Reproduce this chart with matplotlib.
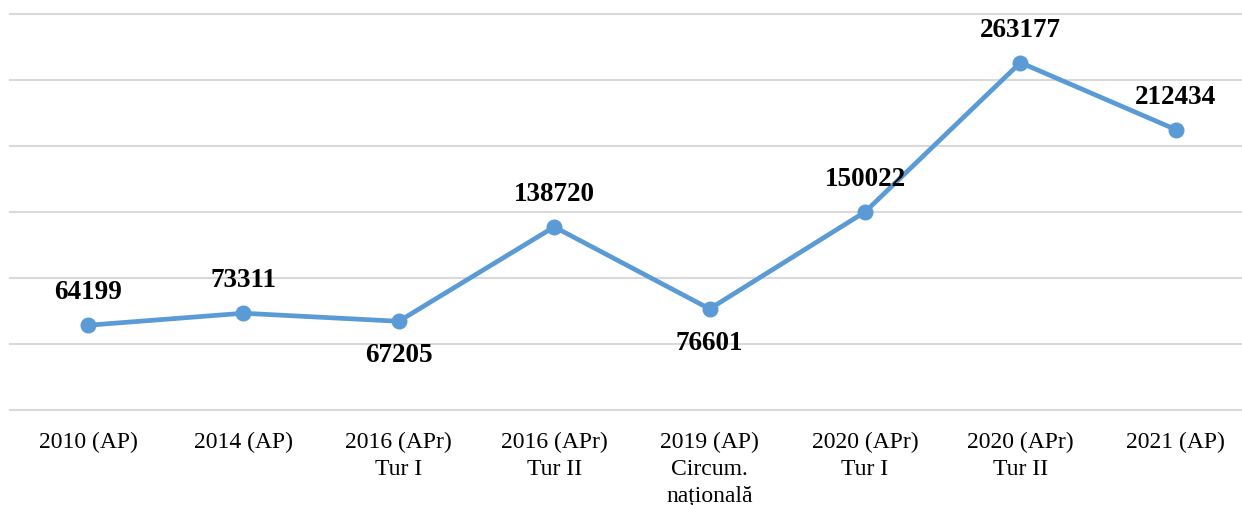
import matplotlib
matplotlib.use('Agg')
import matplotlib.pyplot as plt

categories = ['2010 (AP)', '2014 (AP)', '2016 (APr)\nTur I', '2016 (APr)\nTur II',
              '2019 (AP)\nCircum.\nnațională', '2020 (APr)\nTur I', '2020 (APr)\nTur II', '2021 (AP)']
values = [64199, 73311, 67205, 138720, 76601, 150022, 263177, 212434]
label_side = ['above', 'above', 'below', 'above', 'below', 'above', 'above', 'above']

plt.rcParams['font.family'] = ['Liberation Serif', 'DejaVu Serif']

fig = plt.figure(figsize=(12.42, 5.06), dpi=100)
ax = fig.add_axes([10 / 1242, 95 / 506, 1232 / 1242, 396 / 506])

x = list(range(len(values)))
ax.plot(x, values, color='#5b9bd5', linewidth=3.4, marker='o', markersize=10.5,
        solid_capstyle='round', zorder=3)

for i, v in enumerate(values):
    dy = 24 if label_side[i] == 'above' else -24
    ax.annotate(str(v), (i, v), xytext=(0, dy), textcoords='offset points',
                ha='center', va='center', fontsize=19.5, fontweight='bold', color='black')

ax.set_ylim(0, 300000)
ax.set_yticks(range(0, 300001, 50000))
ax.set_xlim(-0.502, 7.426)
ax.set_xticks(x)
ax.set_xticklabels(categories, fontsize=17, linespacing=1.35)
ax.tick_params(axis='x', length=0, pad=15)
ax.tick_params(axis='y', length=0, labelleft=False)
ax.grid(axis='y', color='#d9d9d9', linewidth=1.5)
for gl in ax.get_ygridlines():
    gl.set_clip_on(False)
ax.set_axisbelow(True)
for s in ax.spines.values():
    s.set_visible(False)

fig.savefig('out.png', dpi=100)
